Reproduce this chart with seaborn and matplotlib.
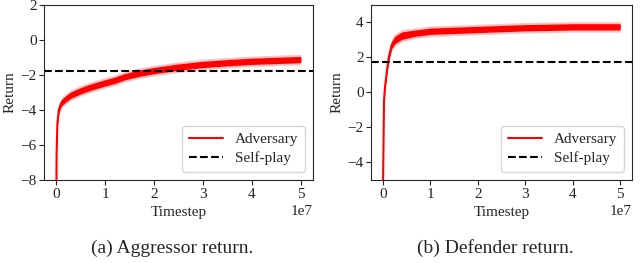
import numpy as np
import pandas as pd
import seaborn as sns
import matplotlib.pyplot as plt

# ---------------------------------------------------------
# Values (mean return and spread)
# ---------------------------------------------------------
agg_steps = [0.0, 0.005e7, 0.02e7, 0.05e7, 0.1e7, 0.2e7, 0.3e7, 0.5e7, 0.7e7, 1.0e7,
             1.2e7, 1.4e7, 1.7e7, 2.0e7, 2.5e7, 3.0e7, 3.5e7, 4.0e7, 4.5e7, 5.0e7]
agg_mean = [-8.6, -6.5, -4.8, -4.0, -3.6, -3.35, -3.15, -2.9, -2.7, -2.45,
            -2.3, -2.1, -1.9, -1.75, -1.55, -1.4, -1.3, -1.22, -1.17, -1.12]
agg_spread = [0.1, 0.2, 0.25, 0.3, 0.3, 0.3, 0.3, 0.3, 0.3, 0.3,
              0.3, 0.3, 0.3, 0.3, 0.3, 0.3, 0.3, 0.3, 0.3, 0.3]

def_steps = [0.0, 0.02e7, 0.04e7, 0.08e7, 0.12e7, 0.18e7, 0.25e7, 0.4e7, 0.7e7, 1.0e7,
             1.5e7, 2.0e7, 2.5e7, 3.0e7, 3.5e7, 4.0e7, 4.5e7, 5.0e7]
def_mean = [-5.2, -0.5, 0.3, 1.2, 2.0, 2.7, 3.0, 3.25, 3.4, 3.5,
            3.55, 3.6, 3.65, 3.7, 3.72, 3.75, 3.75, 3.75]
def_spread = [0.1, 0.2, 0.2, 0.25, 0.3, 0.35, 0.35, 0.35, 0.3, 0.3,
              0.3, 0.3, 0.3, 0.3, 0.3, 0.3, 0.3, 0.3]

agg_selfplay = -1.8
def_selfplay = 1.75

agg_df = pd.DataFrame({"Timestep": agg_steps, "Return": agg_mean})
def_df = pd.DataFrame({"Timestep": def_steps, "Return": def_mean})

# ---------------------------------------------------------
# Styling
# ---------------------------------------------------------
sns.set_style("ticks")
plt.rcParams["font.family"] = ["Liberation Serif", "DejaVu Serif"]
plt.rcParams["font.size"] = 11
plt.rcParams["mathtext.fontset"] = "stix"

fig = plt.figure(figsize=(6.4, 2.63), dpi=100)
ax1 = fig.add_axes([0.069, 0.316, 0.42, 0.665])
ax2 = fig.add_axes([0.58, 0.316, 0.4075, 0.665])

panels = [
    (ax1, agg_df, agg_spread, agg_selfplay, (-8, 2), "(a) Aggressor return."),
    (ax2, def_df, def_spread, def_selfplay, (-5, 5), "(b) Defender return."),
]

for ax, df, spread, selfplay, ylim, caption in panels:
    lo = df["Return"] - np.array(spread)
    hi = df["Return"] + np.array(spread)
    ax.fill_between(df["Timestep"], lo, hi, color="#ffb3b3", alpha=0.8, lw=0)
    ax.fill_between(df["Timestep"], df["Return"] - np.array(spread) * 0.6,
                    df["Return"] + np.array(spread) * 0.6, color="red", lw=0)
    sns.lineplot(data=df, x="Timestep", y="Return", ax=ax, color="red",
                 lw=1.5, label="Adversary")
    ax.axhline(selfplay, color="black", ls="--", lw=1.5, label="Self-play")
    ax.set_ylim(*ylim)
    ax.set_xlim(-0.25e7, 5.25e7)
    ax.set_xticks([0, 1e7, 2e7, 3e7, 4e7, 5e7])
    ax.set_xlabel("Timestep", fontsize=11, labelpad=4)
    ax.set_ylabel("Return", fontsize=11, labelpad=3)
    ax.tick_params(labelsize=11, length=3.5, pad=2)
    ax.xaxis.get_offset_text().set_fontsize(11)
    for s in ax.spines.values():
        s.set_linewidth(0.8)
    ax.legend(loc="lower right", fontsize=11, frameon=True, fancybox=True,
              handlelength=2.2, borderpad=0.45, labelspacing=0.35)
    pos = ax.get_position()
    fig.text((pos.x0 + pos.x1) / 2 - 0.01, 0.057, caption, ha="center",
             va="center", fontsize=14)

ax1.set_yticks([-8, -6, -4, -2, 0, 2])
ax2.set_yticks([-4, -2, 0, 2, 4])

fig.savefig("out.png", dpi=100)
plt.close(fig)
